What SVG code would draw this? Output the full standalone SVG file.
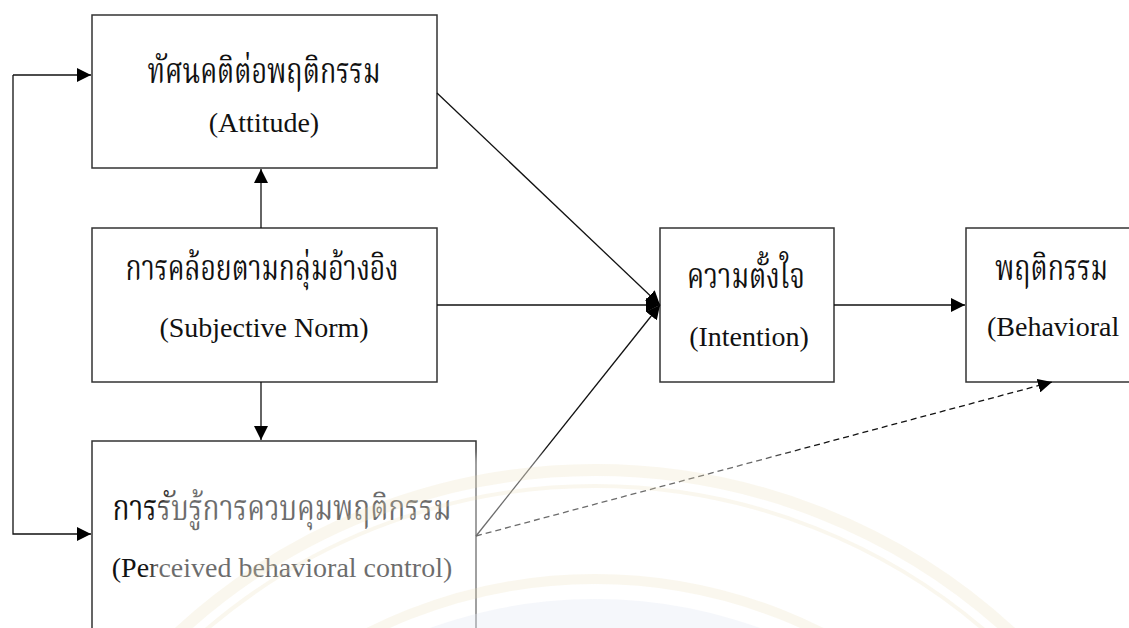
<svg xmlns="http://www.w3.org/2000/svg" width="1129" height="628" viewBox="0 0 1129 628">
  <style>
    .box { fill: #fff; stroke: #333; stroke-width: 1.5; }
    .line { fill: none; stroke: #111; stroke-width: 1.3; }
    .dash { stroke-dasharray: 6 4; }
    .th { font-family: "Noto Serif Thai", "Noto Sans Thai", "Tlwg Typo", "Liberation Serif", serif; font-size: 35px; fill: #111; }
    .en { font-family: "Liberation Serif", "Times New Roman", serif; font-size: 28px; fill: #111; }
    .ring { fill: none; stroke: #eadcb0; stroke-opacity: 0.22; }
  </style>
  <defs>
    <marker id="arrow" markerUnits="userSpaceOnUse" markerWidth="15" markerHeight="14" refX="14" refY="7" orient="auto">
      <path d="M0,0 L14,7 L0,14 Z" fill="#000"/>
    </marker>
    <filter id="soft" x="-10%" y="-10%" width="120%" height="120%">
      <feGaussianBlur stdDeviation="4"/>
    </filter>
  </defs>

  <rect width="1129" height="628" fill="#fff"/>

  <!-- boxes -->
  <g id="attitude">
    <rect class="box" x="92" y="15" width="345" height="153"/>
    <text class="th" x="264" y="83" text-anchor="middle" textLength="233" lengthAdjust="spacingAndGlyphs">ทัศนคติต่อพฤติกรรม</text>
    <text class="en" x="264" y="132" text-anchor="middle">(Attitude)</text>
  </g>

  <g id="subjective-norm">
    <rect class="box" x="92" y="228" width="345" height="154"/>
    <text class="th" x="262" y="280" text-anchor="middle" textLength="273" lengthAdjust="spacingAndGlyphs">การคล้อยตามกลุ่มอ้างอิง</text>
    <text class="en" x="264" y="337" text-anchor="middle">(Subjective Norm)</text>
  </g>

  <g id="perceived-control">
    <rect class="box" x="92" y="441" width="384" height="200"/>
    <text class="th" x="282" y="520" text-anchor="middle" textLength="339" lengthAdjust="spacingAndGlyphs">การรับรู้การควบคุมพฤติกรรม</text>
    <text class="en" x="282" y="577" text-anchor="middle">(Perceived behavioral control)</text>
  </g>

  <g id="intention">
    <rect class="box" x="660" y="228" width="174" height="154"/>
    <text class="th" x="746" y="288" text-anchor="middle" textLength="118" lengthAdjust="spacingAndGlyphs">ความตั้งใจ</text>
    <text class="en" x="749" y="346" text-anchor="middle">(Intention)</text>
  </g>

  <g id="behavioral">
    <rect class="box" x="966" y="228" width="180" height="154"/>
    <text class="th" x="995" y="280" textLength="113" lengthAdjust="spacingAndGlyphs">พฤติกรรม</text>
    <text class="en" x="987" y="336">(Behavioral</text>
  </g>

  <!-- connectors -->
  <g id="connectors">
    <line class="line" x1="261" y1="228" x2="261" y2="169" marker-end="url(#arrow)"/>
    <line class="line" x1="261" y1="382" x2="261" y2="440" marker-end="url(#arrow)"/>
    <polyline class="line" points="13,75 13,534 91,534" marker-end="url(#arrow)"/>
    <line class="line" x1="13" y1="75" x2="91" y2="75" marker-end="url(#arrow)"/>
    <line class="line" x1="437" y1="93" x2="660" y2="305" marker-end="url(#arrow)"/>
    <line class="line" x1="437" y1="305" x2="660" y2="305" marker-end="url(#arrow)"/>
    <line class="line" x1="476" y1="536" x2="660" y2="305" marker-end="url(#arrow)"/>
    <line class="line" x1="834" y1="305" x2="965" y2="305" marker-end="url(#arrow)"/>
    <line class="line dash" x1="476" y1="536" x2="1052" y2="382" marker-end="url(#arrow)"/>
  </g>

  <!-- faint seal printed over the lower part of the page -->
  <g id="seal">
    <path d="M148,640 L151,580 L156,520 Q166,466 260,457 L1010,452 L1010,640 Z" fill="#fff" fill-opacity="0.38" filter="url(#soft)"/>
    <circle class="ring" cx="595" cy="1084" r="614" stroke-width="12"/>
    <circle class="ring" cx="595" cy="1084" r="598" stroke-width="4"/>
    <circle class="ring" cx="595" cy="1084" r="505" stroke-width="10"/>
    <circle cx="595" cy="1084" r="485" fill="#e3e9f3" fill-opacity="0.35"/>
  </g>
</svg>
